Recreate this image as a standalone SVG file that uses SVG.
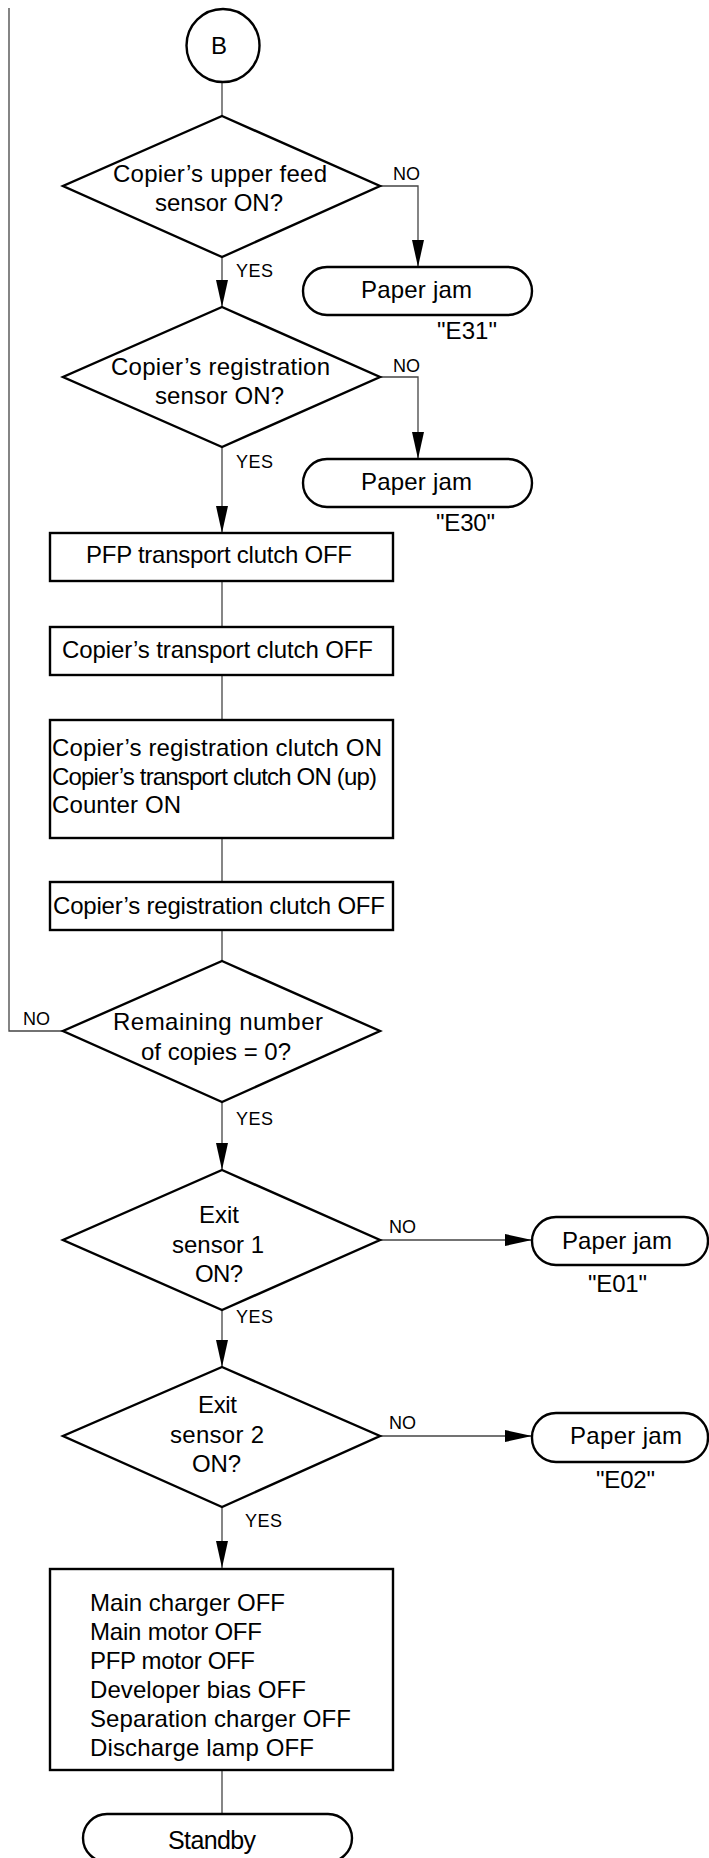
<svg xmlns="http://www.w3.org/2000/svg" width="709" height="1858" viewBox="0 0 709 1858">
<style>
.n{fill:#fff;stroke:#000;stroke-width:2.4}
.c{fill:none;stroke:#444;stroke-width:1.3}
text{font-family:"Liberation Sans",Arial,Helvetica,sans-serif;fill:#000}
.t{font-size:24px}
.l{font-size:18px}
.e{font-size:24px}
.m{text-anchor:middle}
</style>
<defs>
<marker id="ah" viewBox="0 0 27 12" refX="27" refY="6" markerWidth="27" markerHeight="12" markerUnits="userSpaceOnUse" orient="auto">
<path d="M0,0 L27,6 L0,12 z" fill="#000"/>
</marker>
</defs>
<g id="connectors">
<path class="c" d="M63,1031 H9 V8"/>
<path class="c" d="M222,82 V116"/>
<path class="c" d="M222,257 V307" marker-end="url(#ah)"/>
<path class="c" d="M380,186 H418 V267" marker-end="url(#ah)"/>
<path class="c" d="M380,377 H418 V459" marker-end="url(#ah)"/>
<path class="c" d="M222,447 V533" marker-end="url(#ah)"/>
<path class="c" d="M222,581 V627"/>
<path class="c" d="M222,675 V720"/>
<path class="c" d="M222,838 V882"/>
<path class="c" d="M222,930 V961"/>
<path class="c" d="M222,1102 V1170" marker-end="url(#ah)"/>
<path class="c" d="M380,1240 H532" marker-end="url(#ah)"/>
<path class="c" d="M222,1310 V1367" marker-end="url(#ah)"/>
<path class="c" d="M380,1436 H532" marker-end="url(#ah)"/>
<path class="c" d="M222,1507 V1568" marker-end="url(#ah)"/>
<path class="c" d="M222,1770 V1814"/>
<text class="l" x="393" y="180" textLength="27">NO</text>
<text class="l" x="236" y="277" textLength="37">YES</text>
<text class="l" x="393" y="372" textLength="27">NO</text>
<text class="l" x="236" y="468" textLength="37">YES</text>
<text class="l" x="23" y="1025" textLength="27">NO</text>
<text class="l" x="236" y="1125" textLength="37">YES</text>
<text class="l" x="389" y="1233" textLength="27">NO</text>
<text class="l" x="236" y="1323" textLength="37">YES</text>
<text class="l" x="389" y="1429" textLength="27">NO</text>
<text class="l" x="245" y="1527" textLength="37">YES</text>
</g>
<g id="start-B">
<circle class="n" cx="223" cy="45.5" r="36.5"/>
<text class="t m" x="219" y="54">B</text>
</g>
<g id="d-upper-feed">
<polygon class="n" points="222,116 380,186 222,257 63,186"/>
<text class="t m" x="220" y="182" textLength="214">Copier’s upper feed</text>
<text class="t m" x="219" y="211" textLength="128">sensor ON?</text>
</g>
<g id="jam-E31">
<rect class="n" x="303" y="267" width="229" height="48" rx="24"/>
<text class="t m" x="416.5" y="298" textLength="111">Paper jam</text>
<text class="e m" x="467" y="339" textLength="60">"E31"</text>
</g>
<g id="d-registration">
<polygon class="n" points="222,307 380,377 222,447 63,377"/>
<text class="t m" x="220.5" y="375" textLength="219">Copier’s registration</text>
<text class="t m" x="219.5" y="404" textLength="129">sensor ON?</text>
</g>
<g id="jam-E30">
<rect class="n" x="303" y="459" width="229" height="48" rx="24"/>
<text class="t m" x="416.5" y="490" textLength="111">Paper jam</text>
<text class="e m" x="465.5" y="531" textLength="59">"E30"</text>
</g>
<g id="pfp-clutch-off">
<rect class="n" x="50" y="533" width="343" height="48"/>
<text class="t m" x="219" y="563" textLength="266">PFP transport clutch OFF</text>
</g>
<g id="transport-clutch-off">
<rect class="n" x="50" y="627" width="343" height="48"/>
<text class="t m" x="217.5" y="658" textLength="311">Copier’s transport clutch OFF</text>
</g>
<g id="registration-clutch-on">
<rect class="n" x="50" y="720" width="343" height="118"/>
<text class="t" x="52" y="756" textLength="330">Copier’s registration clutch ON</text>
<text class="t" x="52" y="785" textLength="325">Copier’s transport clutch ON (up)</text>
<text class="t" x="52" y="813" textLength="129">Counter ON</text>
</g>
<g id="registration-clutch-off">
<rect class="n" x="50" y="882" width="343" height="48"/>
<text class="t" x="53" y="914" textLength="332">Copier’s registration clutch OFF</text>
</g>
<g id="d-remaining">
<polygon class="n" points="222,961 380,1031 222,1102 63,1031"/>
<text class="t m" x="218" y="1030" textLength="210">Remaining number</text>
<text class="t m" x="216" y="1060" textLength="150">of copies = 0?</text>
</g>
<g id="d-exit1">
<polygon class="n" points="222,1170 380,1240 222,1310 63,1240"/>
<text class="t m" x="219" y="1223" textLength="40">Exit</text>
<text class="t m" x="218" y="1253" textLength="92">sensor 1</text>
<text class="t m" x="219" y="1282" textLength="48">ON?</text>
</g>
<g id="jam-E01">
<rect class="n" x="532" y="1217" width="176" height="48" rx="24"/>
<text class="t m" x="617" y="1249" textLength="110">Paper jam</text>
<text class="e m" x="617.5" y="1292" textLength="59">"E01"</text>
</g>
<g id="d-exit2">
<polygon class="n" points="222,1367 380,1436 222,1507 63,1436"/>
<text class="t m" x="217.5" y="1413" textLength="39">Exit</text>
<text class="t m" x="217" y="1443" textLength="94">sensor 2</text>
<text class="t m" x="216.5" y="1472" textLength="49">ON?</text>
</g>
<g id="jam-E02">
<rect class="n" x="532" y="1413" width="176" height="49" rx="24"/>
<text class="t m" x="626" y="1444" textLength="112">Paper jam</text>
<text class="e m" x="625.5" y="1488" textLength="59">"E02"</text>
</g>
<g id="all-off">
<rect class="n" x="50" y="1569" width="343" height="201"/>
<text class="t" x="90" y="1611" textLength="195">Main charger OFF</text>
<text class="t" x="90" y="1640" textLength="172">Main motor OFF</text>
<text class="t" x="90" y="1669" textLength="165">PFP motor OFF</text>
<text class="t" x="90" y="1698" textLength="216">Developer bias OFF</text>
<text class="t" x="90" y="1727" textLength="261">Separation charger OFF</text>
<text class="t" x="90" y="1756" textLength="224">Discharge lamp OFF</text>
</g>
<g id="standby">
<rect class="n" x="83" y="1814" width="269" height="48" rx="24"/>
<text class="t m" x="212" y="1849" textLength="88" style="font-size:25px">Standby</text>
</g>
</svg>
